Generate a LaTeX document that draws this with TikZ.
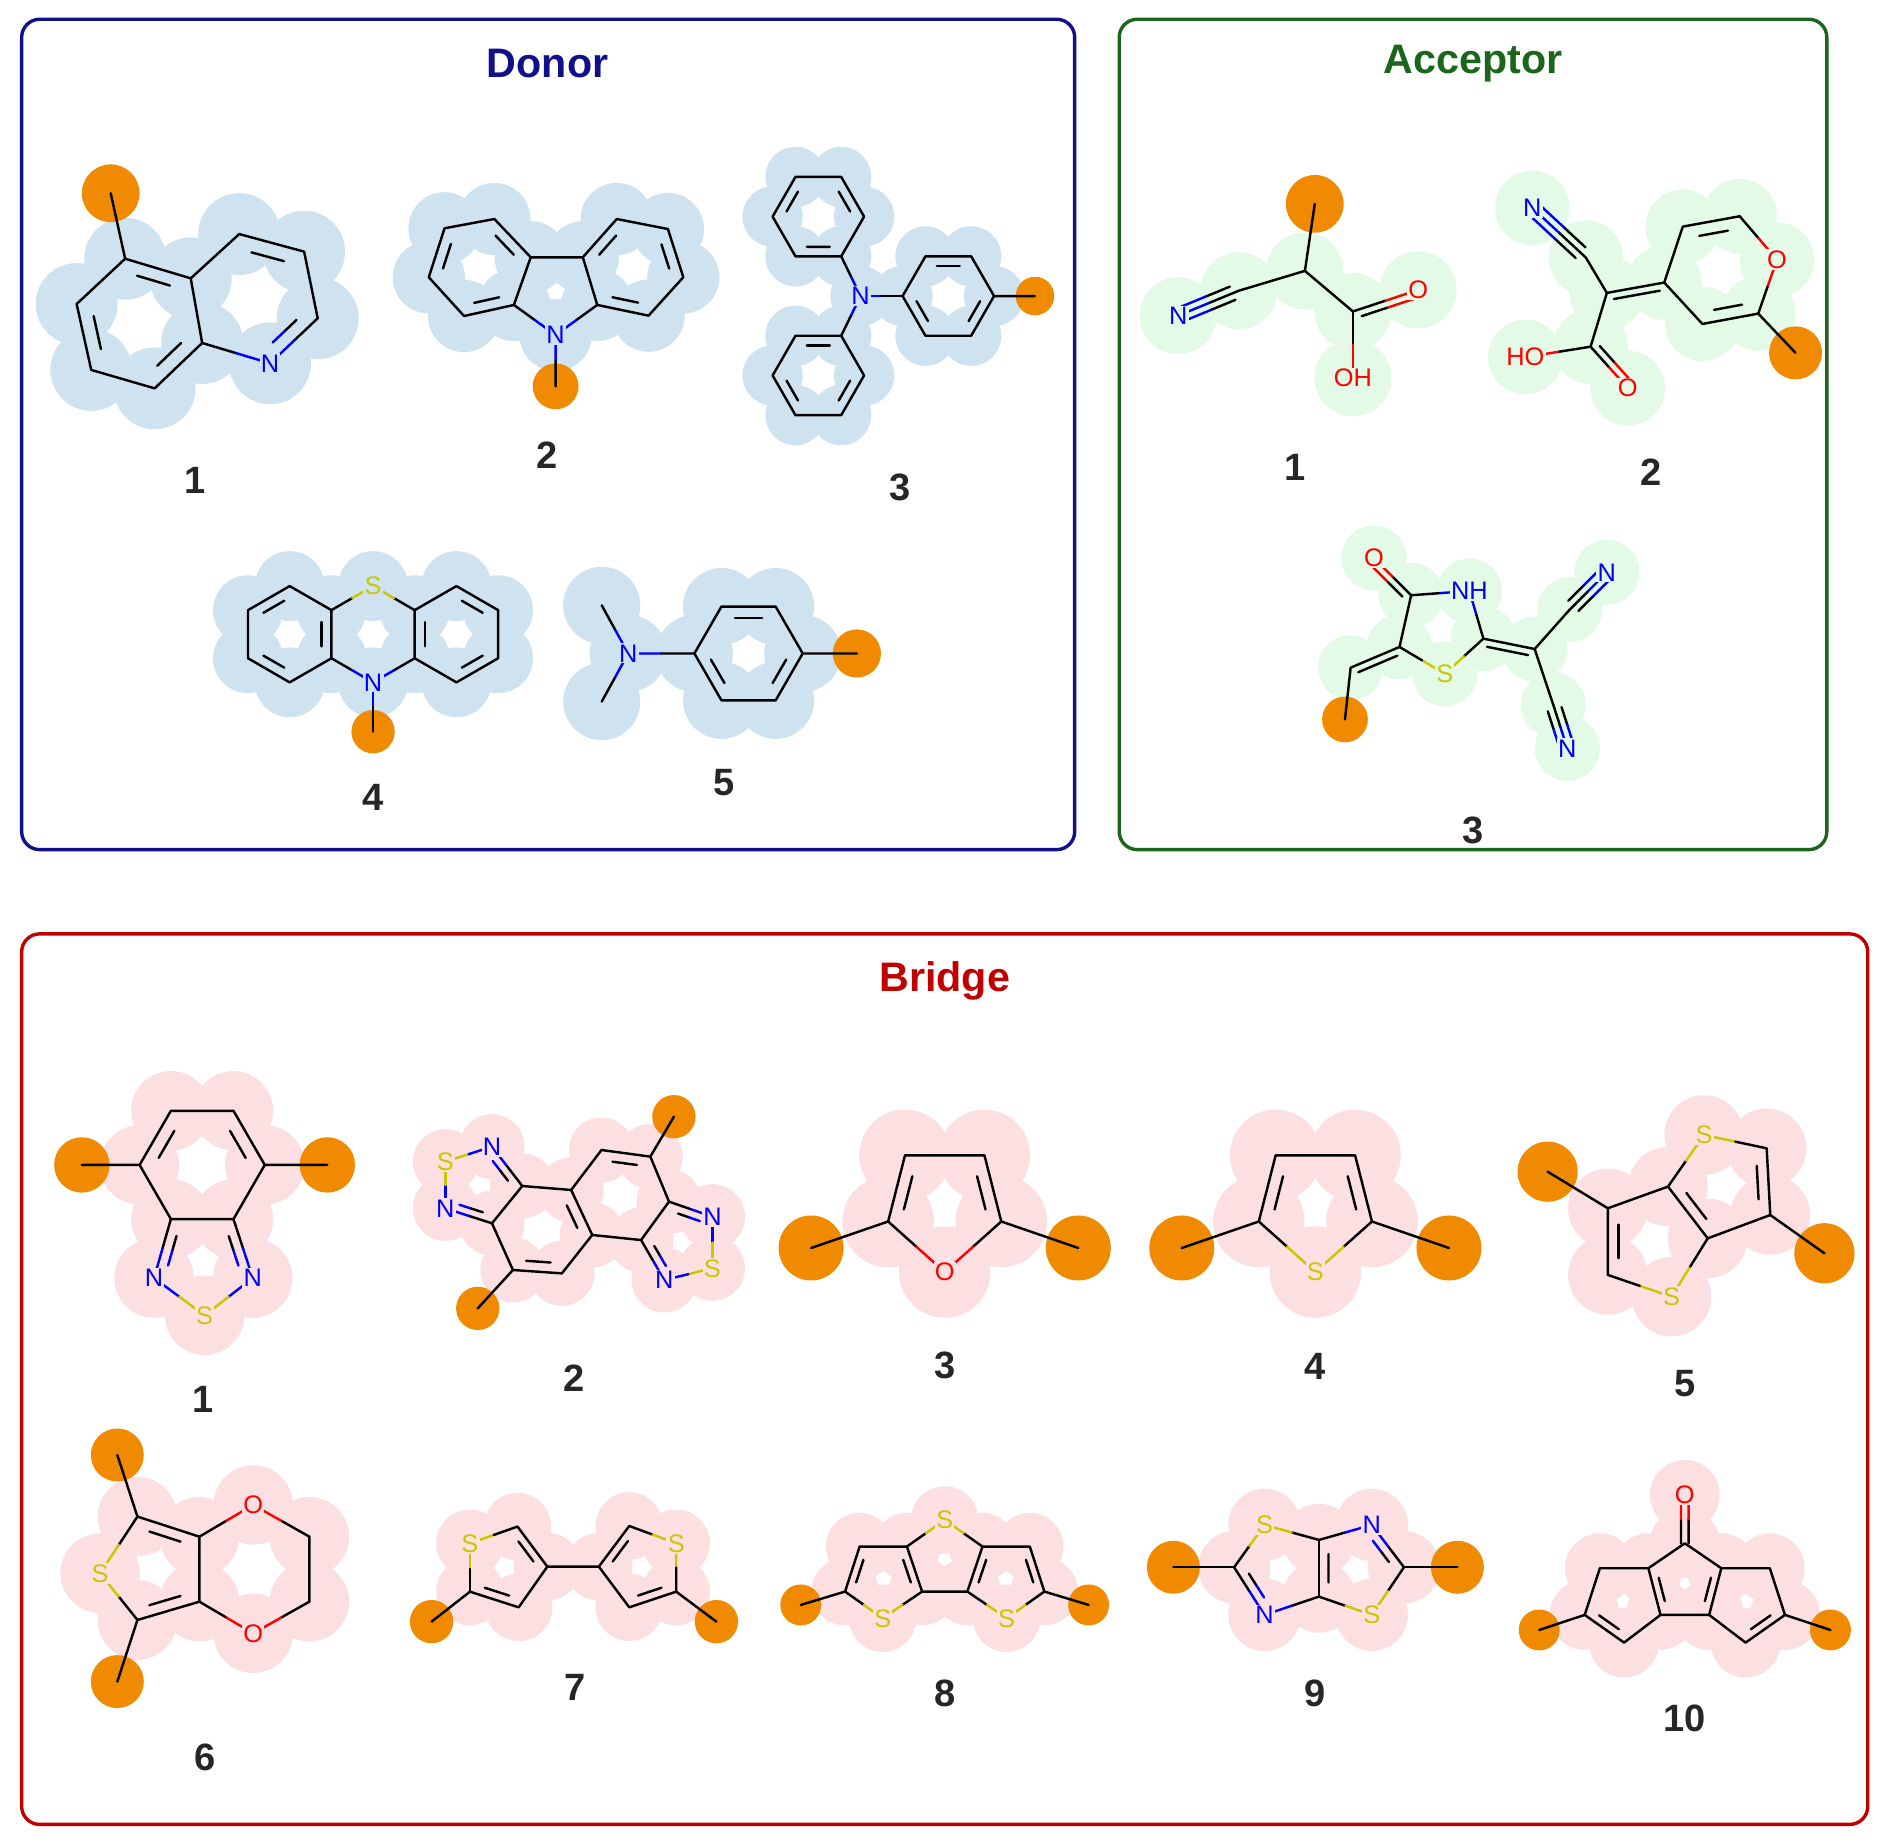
\documentclass[tikz,border=0pt]{standalone}
\usepackage{fontspec}
\setmainfont{Liberation Sans}
\usetikzlibrary{calc}
\definecolor{dblue}{HTML}{10108A}
\definecolor{agreen}{HTML}{1A661A}
\definecolor{bred}{HTML}{C00000}
\definecolor{dhalo}{HTML}{CFE2EF}
\definecolor{ahalo}{HTML}{E3FAE6}
\definecolor{bhalo}{HTML}{FCDFE0}
\definecolor{dotc}{HTML}{F08A00}
\definecolor{nb}{HTML}{0000FF}
\definecolor{ored}{HTML}{FF0000}
\definecolor{sy}{HTML}{C8C800}
\colorlet{hal}{dhalo}
\newcommand\bd[4]{\draw[bond,#3] (#1) -- ($(#1)!0.5!(#2)$); \draw[bond,#4] ($(#1)!0.5!(#2)$) -- (#2);}
\newcommand\ib[5]{\coordinate (t1) at ($($(#1)!0.17!(#2)$)!0.24!(#3)$); \coordinate (t2) at ($($(#2)!0.17!(#1)$)!0.24!(#3)$); \bd{t1}{t2}{#4}{#5}}
\newcommand\sdb[5]{\coordinate (t1) at ($($(#1)!0.1!(#2)$)+(#3)$); \coordinate (t2) at ($($(#2)!0.1!(#1)$)+(#3)$); \bd{t1}{t2}{#4}{#5}}
\newcommand\tpb[5]{\bd{#1}{#2}{#4}{#5}\coordinate (t1) at ($($(#1)!0.1!(#2)$)+(#3)$); \coordinate (t2) at ($($(#2)!0.1!(#1)$)+(#3)$); \bd{t1}{t2}{#4}{#5}\coordinate (t1) at ($($(#1)!0.1!(#2)$)-(#3)$); \coordinate (t2) at ($($(#2)!0.1!(#1)$)-(#3)$); \bd{t1}{t2}{#4}{#5}}
\newcommand\halo[2]{\foreach \p in {#2}{\fill[hal] (\p) circle[radius=#1];}}
\newcommand\orng[2]{\fill[dotc] (#1) circle[radius=#2];}
\newcommand\lab[3]{\node[atom,text=#3] at (#1) {#2};}
\begin{document}
\begin{tikzpicture}[x=0.02cm,y=-0.02cm,
  bond/.style={line width=1.15pt,line cap=round,line join=round},
  atom/.style={font=\fontsize{12}{12}\selectfont,inner sep=0.6pt,fill=hal},
  num/.style={font=\fontsize{18}{18}\selectfont\bfseries,text=black!85},
  ttl/.style={font=\fontsize{19.5}{20}\selectfont\bfseries},
  box/.style={line width=1.6pt,rounded corners=0.3cm}]
\useasboundingbox (0,0) rectangle (1568,1530);
\fill[white] (0,0) rectangle (1568,1530);
% ===== boxes
\draw[box,dblue] (18,16) rectangle (893,706);
\draw[box,agreen] (930,16) rectangle (1518,706);
\draw[box,bred] (18,776) rectangle (1552,1516);
\node[ttl,text=dblue] (tD) at (455,53) {Donor};
\node[ttl,text=agreen] (tA) at (1224,53) {Acceptor};
\node[ttl,text=bred] (tB) at (785,815) {Bridge};
% ================= DONOR
\colorlet{hal}{dhalo}
% D1
\coordinate (a1) at (104,215); \coordinate (a2) at (158.5,231.3); \coordinate (a3) at (168,285);
\coordinate (a4) at (128.5,322.7); \coordinate (a5) at (75.8,307.4); \coordinate (a6) at (63.7,252.6);
\coordinate (b1) at (198.8,194.5); \coordinate (b2) at (252.7,209.1); \coordinate (b3) at (264,264.5);
\coordinate (n) at (224.4,301.9); \coordinate (o) at (92,160.6); \coordinate (cl) at (116,265); \coordinate (cr) at (212,250);
\halo{34}{a1,a2,a3,a4,a5,a6,b1,b2,b3,n}
\orng{o}{24}
\draw[bond] (a1)--(a2)--(a3)--(a4)--(a5)--(a6)--cycle (a2)--(b1)--(b2)--(b3) (a1)--(o);
\bd{b3}{n}{black}{nb}\bd{a3}{n}{black}{nb}
\ib{a1}{a2}{cl}{black}{black}\ib{a5}{a6}{cl}{black}{black}\ib{a3}{a4}{cl}{black}{black}
\ib{b1}{b2}{cr}{black}{black}\ib{b3}{n}{cr}{black}{nb}
\lab{n}{N}{nb}
\node[num] (dn1) at (162,399) {1};
% D2
\coordinate (l1) at (369.4,189.7); \coordinate (l2) at (410.8,182); \coordinate (l3) at (441,213.8);
\coordinate (l4) at (427,253.4); \coordinate (l5) at (385.6,262.6); \coordinate (l6) at (356.3,230.4);
\coordinate (r1) at (484.3,213.8); \coordinate (r2) at (512.5,182); \coordinate (r3) at (555,190.3);
\coordinate (r4) at (567.8,230.4); \coordinate (r5) at (538.9,262.3); \coordinate (r6) at (496.3,253.4);
\coordinate (n) at (461.7,278.4); \coordinate (o) at (461.7,321);
\coordinate (cl) at (398.4,222); \coordinate (cr) at (525.8,222);
\halo{30}{l1,l2,l3,l4,l5,l6,r1,r2,r3,r4,r5,r6,n}
\orng{o}{19}
\draw[bond] (l1)--(l2)--(l3)--(l4)--(l5)--(l6)--cycle (r1)--(r2)--(r3)--(r4)--(r5)--(r6)--cycle (l3)--(r1);
\bd{l4}{n}{black}{nb}\bd{r6}{n}{black}{nb}\bd{n}{o}{nb}{black}
\ib{l6}{l1}{cl}{black}{black}\ib{l2}{l3}{cl}{black}{black}\ib{l4}{l5}{cl}{black}{black}
\ib{r1}{r2}{cr}{black}{black}\ib{r3}{r4}{cr}{black}{black}\ib{r5}{r6}{cr}{black}{black}
\lab{n}{N}{nb}
\node[num] (dn2) at (455,378) {2};
% D3
\coordinate (n) at (715,246);
\coordinate (p1) at (826,246); \coordinate (p2) at (807,279); \coordinate (p3) at (769,279);
\coordinate (p4) at (750,246); \coordinate (p5) at (769,213); \coordinate (p6) at (807,213); \coordinate (cp) at (788,246);
\coordinate (u1) at (718,180); \coordinate (u2) at (699,213); \coordinate (u3) at (661,213);
\coordinate (u4) at (642,180); \coordinate (u5) at (661,147); \coordinate (u6) at (699,147); \coordinate (cu) at (680,180);
\coordinate (w1) at (718,312); \coordinate (w2) at (699,345); \coordinate (w3) at (661,345);
\coordinate (w4) at (642,312); \coordinate (w5) at (661,279); \coordinate (w6) at (699,279); \coordinate (cw) at (680,312);
\coordinate (o) at (860,246);
\halo{25}{n,p1,p2,p3,p4,p5,p6,u1,u2,u3,u4,u5,u6,w1,w2,w3,w4,w5,w6}
\orng{o}{16}
\draw[bond] (p1)--(p2)--(p3)--(p4)--(p5)--(p6)--cycle (u1)--(u2)--(u3)--(u4)--(u5)--(u6)--cycle
  (w1)--(w2)--(w3)--(w4)--(w5)--(w6)--cycle (p1)--(o);
\bd{n}{p4}{nb}{black}\bd{n}{u2}{nb}{black}\bd{n}{w6}{nb}{black}
\ib{p1}{p2}{cp}{black}{black}\ib{p3}{p4}{cp}{black}{black}\ib{p5}{p6}{cp}{black}{black}
\ib{u2}{u3}{cu}{black}{black}\ib{u4}{u5}{cu}{black}{black}\ib{u6}{u1}{cu}{black}{black}
\ib{w1}{w2}{cw}{black}{black}\ib{w3}{w4}{cw}{black}{black}\ib{w5}{w6}{cw}{black}{black}
\lab{n}{N}{nb}
\node[num] (dn3) at (748,405) {3};
% D4
\coordinate (s) at (310,487); \coordinate (m1) at (344.6,507); \coordinate (m2) at (344.6,547);
\coordinate (n) at (310,567); \coordinate (m3) at (275.4,547); \coordinate (m4) at (275.4,507);
\coordinate (x1) at (240.7,567); \coordinate (x2) at (206.1,547); \coordinate (x3) at (206.1,507); \coordinate (x4) at (240.7,487);
\coordinate (y1) at (379.3,487); \coordinate (y2) at (413.9,507); \coordinate (y3) at (413.9,547); \coordinate (y4) at (379.3,567);
\coordinate (cl) at (240.7,527); \coordinate (cr) at (379.3,527); \coordinate (o) at (310,608);
\halo{29}{s,m1,m2,n,m3,m4,x1,x2,x3,x4,y1,y2,y3,y4}
\orng{o}{18}
\draw[bond] (m4)--(m3)--(x1)--(x2)--(x3)--(x4)--cycle (m1)--(y1)--(y2)--(y3)--(y4)--(m2)--cycle;
\bd{m4}{s}{black}{sy}\bd{m1}{s}{black}{sy}\bd{m3}{n}{black}{nb}\bd{m2}{n}{black}{nb}\bd{n}{o}{nb}{black}
\ib{m4}{m3}{cl}{black}{black}\ib{x1}{x2}{cl}{black}{black}\ib{x3}{x4}{cl}{black}{black}
\ib{m1}{m2}{cr}{black}{black}\ib{y1}{y2}{cr}{black}{black}\ib{y3}{y4}{cr}{black}{black}
\lab{s}{S}{sy}\lab{n}{N}{nb}
\node[num] (dn4) at (310,663) {4};
% D5
\coordinate (n) at (522,543); \coordinate (c1) at (500,503); \coordinate (c2) at (500,583);
\coordinate (q1) at (667,543); \coordinate (q2) at (644.5,582); \coordinate (q3) at (599.5,582);
\coordinate (q4) at (577,543); \coordinate (q5) at (599.5,504); \coordinate (q6) at (644.5,504);
\coordinate (cq) at (622,543); \coordinate (o) at (712,543);
\halo{32}{n,c1,c2,q1,q2,q3,q4,q5,q6}
\orng{o}{20}
\draw[bond] (q1)--(q2)--(q3)--(q4)--(q5)--(q6)--cycle (q1)--(o);
\bd{n}{c1}{nb}{black}\bd{n}{c2}{nb}{black}\bd{n}{q4}{nb}{black}
\ib{q5}{q6}{cq}{black}{black}\ib{q1}{q2}{cq}{black}{black}\ib{q3}{q4}{cq}{black}{black}
\lab{n}{N}{nb}
\node[num] (dn5) at (602,650) {5};
% ================= ACCEPTOR
\colorlet{hal}{ahalo}
% A1
\coordinate (o) at (1092.5,169.4); \coordinate (ca) at (1084.3,225.1); \coordinate (cn) at (1029.3,241.6);
\coordinate (n) at (979,262.3); \coordinate (cc) at (1124.2,258.8); \coordinate (ox) at (1178.4,240.9); \coordinate (oh) at (1124.2,313.9);
\halo{32}{ca,cn,n,cc,ox,oh}
\orng{o}{24}
\draw[bond] (ca)--(o) (ca)--(cn) (ca)--(cc);
\tpb{cn}{n}{2.3,5.5}{black}{nb}
\bd{cc}{ox}{black}{ored}\sdb{cc}{ox}{1.9,5.7}{black}{ored}
\bd{cc}{oh}{black}{ored}
\lab{n}{N}{nb}\lab{ox}{O}{ored}\lab{oh}{OH}{ored}
\node[num] (an1) at (1076,388) {1};
% A2
\coordinate (n) at (1273.3,172.8); \coordinate (cn) at (1317.8,214.1); \coordinate (ca) at (1335.2,243.4);
\coordinate (cb) at (1382.9,234.8); \coordinate (r1) at (1398.3,188.3); \coordinate (r2) at (1445.6,179.7);
\coordinate (ox) at (1476.5,215.8); \coordinate (r4) at (1461,260.6); \coordinate (r5) at (1414.6,269.2);
\coordinate (o) at (1492,293.2); \coordinate (cc) at (1321.7,288.1); \coordinate (ho) at (1267.5,296.7);
\coordinate (o2) at (1352.6,322.5); \coordinate (cr) at (1430,225);
\halo{31}{n,cn,ca,cb,r1,r2,ox,r4,r5,cc,ho,o2}
\orng{o}{22}
\draw[bond] (cn)--(ca)--(cc) (cb)--(r1)--(r2) (r4)--(r5)--(cb) (r4)--(o) (ca)--(cb);
\sdb{ca}{cb}{1.1,5.9}{black}{black}
\tpb{cn}{n}{-4.1,4.4}{black}{nb}
\bd{cc}{ho}{black}{ored}\bd{r2}{ox}{black}{ored}\bd{ox}{r4}{ored}{black}
\bd{cc}{o2}{black}{ored}\sdb{cc}{o2}{4.5,-4}{black}{ored}
\ib{r1}{r2}{cr}{black}{black}\ib{r4}{r5}{cr}{black}{black}
\lab{n}{N}{nb}\lab{ox}{O}{ored}\lab{ho}{HO}{ored}\lab{o2}{O}{ored}
\node[num] (an2) at (1372,392) {2};
% A3
\coordinate (ox) at (1141.6,463.6); \coordinate (c1) at (1172.6,494.6); \coordinate (nh) at (1221,491.1);
\coordinate (c2) at (1232.6,530.7); \coordinate (s) at (1200.5,559.9); \coordinate (c3) at (1162.9,537.6);
\coordinate (ch) at (1122.3,554.8); \coordinate (o) at (1117.6,597.8); \coordinate (cc) at (1275.2,539.3);
\coordinate (cn1) at (1304.3,506.6); \coordinate (n1) at (1335.2,475.6); \coordinate (cn2) at (1290.7,585.7);
\coordinate (n2) at (1302.3,621.9);
\halo{27}{ox,c1,nh,c2,s,c3,ch,cc,cn1,n1,cn2,n2}
\orng{o}{19}
\draw[bond] (c3)--(c1) (cc)--(cn1) (cc)--(cn2) (ch)--(o) (c2)--(cc) (c3)--(ch);
\bd{c1}{ox}{black}{ored}\sdb{c1}{ox}{-4.2,4.2}{black}{ored}
\sdb{c2}{cc}{-1.2,5.9}{black}{black}\sdb{c3}{ch}{2.3,5.5}{black}{black}
\bd{c1}{nh}{black}{nb}\bd{nh}{c2}{nb}{black}\bd{c2}{s}{black}{sy}\bd{s}{c3}{sy}{black}
\tpb{cn1}{n1}{4.2,4.2}{black}{nb}\tpb{cn2}{n2}{5.7,-1.8}{black}{nb}
\lab{ox}{O}{ored}\lab{nh}{NH}{nb}\lab{s}{S}{sy}\lab{n1}{N}{nb}\lab{n2}{N}{nb}
\node[num] (an3) at (1224,690) {3};
% ================= BRIDGE
\colorlet{hal}{bhalo}
% B1
\coordinate (h1) at (220,968); \coordinate (h2) at (194,1013); \coordinate (h3) at (142,1013);
\coordinate (h4) at (116,968); \coordinate (h5) at (142,923); \coordinate (h6) at (194,923);
\coordinate (n1) at (128,1062); \coordinate (n2) at (210,1062); \coordinate (s) at (170,1093);
\coordinate (oa) at (68,968); \coordinate (ob) at (272,968); \coordinate (c6) at (168,968); \coordinate (c5) at (169,1045);
\halo{33}{h1,h2,h3,h4,h5,h6,n1,n2,s}
\orng{oa}{23}\orng{ob}{23}
\draw[bond] (h1)--(h2)--(h3)--(h4)--(h5)--(h6)--cycle (h4)--(oa) (h1)--(ob);
\bd{h3}{n1}{black}{nb}\bd{h2}{n2}{black}{nb}\bd{n1}{s}{nb}{sy}\bd{n2}{s}{nb}{sy}
\ib{h5}{h4}{c6}{black}{black}\ib{h6}{h1}{c6}{black}{black}\ib{h3}{n1}{c5}{black}{nb}\ib{h2}{n2}{c5}{black}{nb}
\lab{n1}{N}{nb}\lab{n2}{N}{nb}\lab{s}{S}{sy}
\node[num] (bn1) at (169,1163) {1};
% B2
\coordinate (s1) at (370.1,965.3); \coordinate (n1) at (408.8,952.8); \coordinate (c1) at (434,985.5);
\coordinate (n2) at (370.1,1004.1); \coordinate (c2) at (408.8,1016.5); \coordinate (c3) at (474.6,988.8);
\coordinate (c4) at (499.8,955.6); \coordinate (c5) at (540.4,961.1); \coordinate (oa) at (560,927.9);
\coordinate (c6) at (555.9,998.5); \coordinate (n3) at (592,1011); \coordinate (s2) at (592,1053.9);
\coordinate (n4) at (552,1063.6); \coordinate (c7) at (532.7,1030.4); \coordinate (c8) at (492.1,1026.2);
\coordinate (c9) at (466.9,1058.1); \coordinate (c10) at (426.2,1055.3); \coordinate (ob) at (397,1087.2);
\coordinate (z1) at (398,985); \coordinate (z2) at (450,1022); \coordinate (z3) at (516,993); \coordinate (z4) at (568,1033);
\halo{27}{s1,n1,c1,n2,c2,c3,c4,c5,c6,n3,s2,n4,c7,c8,c9,c10}
\orng{oa}{18}\orng{ob}{18}
\draw[bond] (c1)--(c2) (c1)--(c3)--(c8)--(c9)--(c10)--(c2) (c3)--(c4)--(c5)--(c6)--(c7)--(c8) (c5)--(oa) (c10)--(ob);
\bd{s1}{n1}{sy}{nb}\bd{n1}{c1}{nb}{black}\bd{c2}{n2}{black}{nb}\bd{n2}{s1}{nb}{sy}
\bd{c6}{n3}{black}{nb}\bd{n3}{s2}{nb}{sy}\bd{s2}{n4}{sy}{nb}\bd{n4}{c7}{nb}{black}
\ib{n1}{c1}{z1}{nb}{black}\ib{n2}{c2}{z1}{nb}{black}\ib{c3}{c8}{z2}{black}{black}\ib{c9}{c10}{z2}{black}{black}
\ib{c4}{c5}{z3}{black}{black}\ib{c6}{n3}{z4}{black}{nb}\ib{c7}{n4}{z4}{black}{nb}
\lab{s1}{S}{sy}\lab{n1}{N}{nb}\lab{n2}{N}{nb}\lab{n3}{N}{nb}\lab{s2}{S}{sy}\lab{n4}{N}{nb}
\node[num] (bn2) at (477,1145) {2};
% B3 furan
\coordinate (o) at (785,1057); \coordinate (c2) at (738,1015); \coordinate (c5) at (832,1015);
\coordinate (c3) at (752,960); \coordinate (c4) at (818,960); \coordinate (oa) at (674,1037); \coordinate (ob) at (896,1037);
\coordinate (z) at (785,1003);
\halo{38}{o,c2,c3,c4,c5}
\orng{oa}{27}\orng{ob}{27}
\draw[bond] (c2)--(c3)--(c4)--(c5) (c2)--(oa) (c5)--(ob);
\bd{c2}{o}{black}{ored}\bd{c5}{o}{black}{ored}
\ib{c2}{c3}{z}{black}{black}\ib{c4}{c5}{z}{black}{black}
\lab{o}{O}{ored}
\node[num] (bn3) at (785,1135) {3};
% B4 thiophene
\coordinate (s) at (1093,1057); \coordinate (c2) at (1046,1015); \coordinate (c5) at (1140,1015);
\coordinate (c3) at (1060,960); \coordinate (c4) at (1126,960); \coordinate (oa) at (982,1037); \coordinate (ob) at (1204,1037);
\coordinate (z) at (1093,1003);
\halo{38}{s,c2,c3,c4,c5}
\orng{oa}{27}\orng{ob}{27}
\draw[bond] (c2)--(c3)--(c4)--(c5) (c2)--(oa) (c5)--(ob);
\bd{c2}{s}{black}{sy}\bd{c5}{s}{black}{sy}
\ib{c2}{c3}{z}{black}{black}\ib{c4}{c5}{z}{black}{black}
\lab{s}{S}{sy}
\node[num] (bn4) at (1093,1135) {4};
% B5
\coordinate (s1) at (1416,943.1); \coordinate (c1) at (1468,954.2); \coordinate (c2) at (1471,1009.6);
\coordinate (c3) at (1419,1029); \coordinate (c4) at (1386,986); \coordinate (s2) at (1389,1077.5);
\coordinate (c5) at (1336,1059.4); \coordinate (c6) at (1336,1004); \coordinate (oa) at (1516,1041.4);
\coordinate (ob) at (1286,973.6); \coordinate (za) at (1432,985); \coordinate (zb) at (1373,1031);
\halo{33}{s1,c1,c2,c3,c4,s2,c5,c6}
\orng{oa}{25}\orng{ob}{25}
\draw[bond] (c1)--(c2)--(c3)--(c4)--(c6)--(c5) (c2)--(oa) (c6)--(ob);
\bd{s1}{c1}{sy}{black}\bd{c4}{s1}{black}{sy}\bd{c3}{s2}{black}{sy}\bd{s2}{c5}{sy}{black}
\ib{c1}{c2}{za}{black}{black}\ib{c4}{c3}{za}{black}{black}\ib{c5}{c6}{zb}{black}{black}
\lab{s1}{S}{sy}\lab{s2}{S}{sy}
\node[num] (bn5) at (1400,1150) {5};
% B6
\coordinate (oa) at (97.5,1209); \coordinate (c1) at (114.2,1260.2); \coordinate (s) at (83.2,1307.3);
\coordinate (c2) at (114.2,1346.1); \coordinate (ob) at (97.5,1397.3); \coordinate (c3) at (165.7,1276.9);
\coordinate (c4) at (165.7,1330.9); \coordinate (o1) at (210.4,1250.5); \coordinate (m1) at (257.1,1276.9);
\coordinate (m2) at (257.1,1330.9); \coordinate (o2) at (210.4,1357.2); \coordinate (z) at (128,1303);
\halo{33}{c1,s,c2,c3,c4,o1,m1,m2,o2}
\orng{oa}{22}\orng{ob}{22}
\draw[bond] (c1)--(c3)--(c4)--(c2) (m1)--(m2) (c1)--(oa) (c2)--(ob);
\bd{c1}{s}{black}{sy}\bd{c2}{s}{black}{sy}\bd{c3}{o1}{black}{ored}\bd{m1}{o1}{black}{ored}
\bd{m2}{o2}{black}{ored}\bd{c4}{o2}{black}{ored}
\ib{c1}{c3}{z}{black}{black}\ib{c2}{c4}{z}{black}{black}
\lab{s}{S}{sy}\lab{o1}{O}{ored}\lab{o2}{O}{ored}
\node[num] (bn6) at (170,1460) {6};
% B7
\coordinate (s1) at (390.5,1282.4); \coordinate (a1) at (430,1268.5); \coordinate (a2) at (454.8,1301.8);
\coordinate (a3) at (431,1335.6); \coordinate (a4) at (390.5,1322.6); \coordinate (oa) at (358.6,1347.5);
\coordinate (b2) at (497.6,1301.8); \coordinate (b1) at (522.9,1268); \coordinate (s2) at (561.9,1282.4);
\coordinate (b4) at (561.9,1322.6); \coordinate (b3) at (522.9,1335.6); \coordinate (ob) at (595.3,1347.5);
\coordinate (za) at (420,1302); \coordinate (zb) at (532,1302);
\halo{28}{s1,a1,a2,a3,a4,s2,b1,b2,b3,b4}
\orng{oa}{18}\orng{ob}{18}
\draw[bond] (a1)--(a2)--(a3)--(a4) (a2)--(b2) (b1)--(b2)--(b3)--(b4) (a4)--(oa) (b4)--(ob);
\bd{s1}{a1}{sy}{black}\bd{a4}{s1}{black}{sy}\bd{b1}{s2}{black}{sy}\bd{s2}{b4}{sy}{black}
\ib{a1}{a2}{za}{black}{black}\ib{a3}{a4}{za}{black}{black}\ib{b1}{b2}{zb}{black}{black}\ib{b3}{b4}{zb}{black}{black}
\lab{s1}{S}{sy}\lab{s2}{S}{sy}
\node[num] (bn7) at (478,1402) {7};
% B8
\coordinate (s) at (785,1263); \coordinate (r1) at (816.4,1285.1); \coordinate (r2) at (855.7,1285.1);
\coordinate (r3) at (867.8,1322.5); \coordinate (rs) at (836.5,1344.7); \coordinate (r4) at (803.8,1322.5);
\coordinate (l1) at (753.6,1285.1); \coordinate (l2) at (714.3,1285.1); \coordinate (l3) at (702.2,1322.5);
\coordinate (ls) at (733.5,1344.7); \coordinate (l4) at (766.2,1322.5);
\coordinate (oa) at (665.4,1333.6); \coordinate (ob) at (904.6,1333.6);
\coordinate (zr) at (836,1311); \coordinate (zl) at (734,1311);
\halo{28}{s,r1,r2,r3,rs,r4,l1,l2,l3,ls,l4}
\orng{oa}{17}\orng{ob}{17}
\draw[bond] (l1)--(l4)--(r4)--(r1)--(r2)--(r3) (l4)--(l1)--(l2)--(l3) (r3)--(ob) (l3)--(oa);
\bd{r1}{s}{black}{sy}\bd{l1}{s}{black}{sy}\bd{r3}{rs}{black}{sy}\bd{r4}{rs}{black}{sy}
\bd{l3}{ls}{black}{sy}\bd{l4}{ls}{black}{sy}
\ib{r1}{r4}{zr}{black}{black}\ib{r2}{r3}{zr}{black}{black}\ib{l1}{l4}{zl}{black}{black}\ib{l2}{l3}{zl}{black}{black}
\lab{s}{S}{sy}\lab{rs}{S}{sy}\lab{ls}{S}{sy}
\node[num] (bn8) at (785,1407) {8};
% B9
\coordinate (s1) at (1050.7,1267.1); \coordinate (c1) at (1096,1279.6); \coordinate (n1) at (1139.9,1267.1);
\coordinate (c2) at (1166.6,1302.3); \coordinate (ob) at (1211,1302.3); \coordinate (s2) at (1139.9,1341.9);
\coordinate (c3) at (1096,1326.7); \coordinate (n2) at (1050.7,1341.9); \coordinate (c4) at (1025.5,1302.3);
\coordinate (oa) at (975,1302.3); \coordinate (zl) at (1063,1303); \coordinate (zr) at (1129,1303);
\halo{30}{s1,c1,n1,c2,s2,c3,n2,c4}
\orng{oa}{22}\orng{ob}{22}
\draw[bond] (c1)--(c3) (c2)--(ob) (c4)--(oa);
\bd{c1}{s1}{black}{sy}\bd{c1}{n1}{black}{nb}\bd{c2}{n1}{black}{nb}\bd{c2}{s2}{black}{sy}
\bd{c3}{s2}{black}{sy}\bd{c3}{n2}{black}{nb}\bd{c4}{n2}{black}{nb}\bd{c4}{s1}{black}{sy}
\ib{c2}{n1}{zr}{black}{nb}\ib{c4}{n2}{zl}{black}{nb}\ib{c1}{c3}{zr}{black}{black}
\lab{s1}{S}{sy}\lab{n1}{N}{nb}\lab{s2}{S}{sy}\lab{n2}{N}{nb}
\node[num] (bn9) at (1093,1407) {9};
% B10
\coordinate (o) at (1400,1242.2); \coordinate (co) at (1400,1282.4); \coordinate (a) at (1369.7,1303.1);
\coordinate (b) at (1430.3,1303.1); \coordinate (c) at (1379.8,1341.9); \coordinate (d) at (1420.2,1341.9);
\coordinate (l1) at (1329.4,1303.1); \coordinate (l2) at (1316.8,1341.9); \coordinate (l3) at (1349.5,1364.9);
\coordinate (r1) at (1470.6,1303.1); \coordinate (r2) at (1483.2,1341.9); \coordinate (r3) at (1450.5,1364.9);
\coordinate (oa) at (1279,1354.4); \coordinate (ob) at (1521,1354.4);
\coordinate (zc) at (1400,1315); \coordinate (zl) at (1349,1331); \coordinate (zr) at (1451,1331);
\halo{29}{o,co,a,b,c,d,l1,l2,l3,r1,r2,r3}
\orng{oa}{17}\orng{ob}{17}
\draw[bond] (co)--(a)--(c)--(d)--(b)--(co) (a)--(l1)--(l2)--(l3)--(c) (b)--(r1)--(r2)--(r3)--(d) (l2)--(oa) (r2)--(ob);
\coordinate (q1) at ($(co)+(-3.2,0)$); \coordinate (q2) at ($(o)+(-3.2,0)$); \coordinate (q3) at ($(co)+(3.2,0)$); \coordinate (q4) at ($(o)+(3.2,0)$);
\bd{q1}{q2}{black}{ored}\bd{q3}{q4}{black}{ored}
\ib{a}{c}{zc}{black}{black}\ib{b}{d}{zc}{black}{black}\ib{l2}{l3}{zl}{black}{black}\ib{r2}{r3}{zr}{black}{black}
\lab{o}{O}{ored}
\node[num] (bn10) at (1400,1428) {10};
\end{tikzpicture}
\end{document}
